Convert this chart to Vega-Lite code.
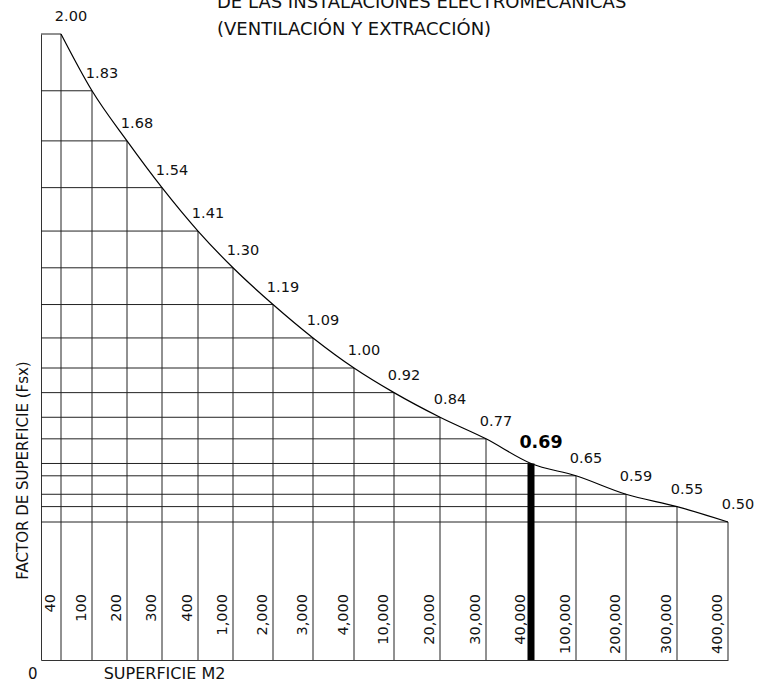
{
  "$schema": "https://vega.github.io/schema/vega-lite/v6.json",
  "width": 687,
  "height": 626,
  "autosize": {"type": "none"},
  "padding": {"left": 41, "top": 34, "right": 32, "bottom": 28},
  "background": "white",
  "title": {
    "text": ["DE LAS INSTALACIONES ELECTROMECANICAS", "(VENTILACIÓN Y EXTRACCIÓN)"],
    "anchor": "start",
    "frame": "group",
    "dx": 176,
    "dy": 30,
    "offset": 0,
    "font": "DejaVu Sans",
    "fontSize": 18,
    "fontWeight": "normal",
    "color": "#111",
    "lineHeight": 27
  },
  "config": {
    "view": {"stroke": null},
    "text": {"font": "DejaVu Sans", "color": "#111"}
  },
  "data": {
    "values": [
      {"col": 1, "area": "40", "fsx": 2.00},
      {"col": 2, "area": "100", "fsx": 1.83},
      {"col": 3, "area": "200", "fsx": 1.68},
      {"col": 4, "area": "300", "fsx": 1.54},
      {"col": 5, "area": "400", "fsx": 1.41},
      {"col": 6, "area": "1,000", "fsx": 1.30},
      {"col": 7, "area": "2,000", "fsx": 1.19},
      {"col": 8, "area": "3,000", "fsx": 1.09},
      {"col": 9, "area": "4,000", "fsx": 1.00},
      {"col": 10, "area": "10,000", "fsx": 0.92},
      {"col": 11, "area": "20,000", "fsx": 0.84},
      {"col": 12, "area": "30,000", "fsx": 0.77},
      {"col": 13, "area": "40,000", "fsx": 0.69},
      {"col": 14, "area": "100,000", "fsx": 0.65},
      {"col": 15, "area": "200,000", "fsx": 0.59},
      {"col": 16, "area": "300,000", "fsx": 0.55},
      {"col": 17, "area": "400,000", "fsx": 0.50}
    ]
  },
  "encoding": {
    "x": {
      "field": "col",
      "type": "quantitative",
      "scale": {
        "domain": [0, 1, 2, 3, 4, 5, 6, 7, 8, 9, 10, 11, 12, 13, 14, 15, 16, 17],
        "range": [0, 20, 51, 86, 121, 157, 192, 232, 272, 313, 353, 399, 445, 490, 535, 585, 636, 687],
        "nice": false,
        "zero": false
      },
      "axis": {
        "title": "SUPERFICIE M2",
        "grid": false,
        "ticks": false,
        "labels": false,
        "domain": true,
        "domainColor": "#333",
        "domainWidth": 1,
        "titleX": 123,
        "titleY": 13,
        "titleAlign": "center",
        "titleBaseline": "middle",
        "titleFont": "DejaVu Sans",
        "titleFontSize": 16,
        "titleFontWeight": "normal",
        "titleColor": "#111"
      }
    },
    "y": {
      "field": "fsx",
      "type": "quantitative",
      "scale": {
        "domain": [0, 0.5, 1, 2],
        "range": [626, 488, 334, 0],
        "nice": false,
        "zero": false
      },
      "axis": {
        "title": "FACTOR DE SUPERFICIE (Fsx)",
        "grid": false,
        "ticks": false,
        "tickSize": 0,
        "values": [0],
        "labelPadding": 4,
        "labelOffset": 13,
        "labelBaseline": "middle",
        "labelFont": "DejaVu Sans",
        "labelFontSize": 15,
        "labelColor": "#111",
        "domain": true,
        "domainColor": "#333",
        "domainWidth": 1,
        "titleX": -19,
        "titleY": 436,
        "titleAngle": 270,
        "titleAlign": "center",
        "titleBaseline": "middle",
        "titleFont": "DejaVu Sans",
        "titleFontSize": 15,
        "titleFontWeight": "normal",
        "titleColor": "#111"
      }
    }
  },
  "layer": [
    {
      "mark": {"type": "rule", "color": "#222", "strokeWidth": 1},
      "encoding": {"x2": {"datum": 0}}
    },
    {
      "mark": {"type": "rule", "color": "#222", "strokeWidth": 1},
      "encoding": {"y2": {"datum": 0}}
    },
    {
      "transform": [{"filter": "datum.area === '40,000'"}],
      "mark": {"type": "rule", "color": "#000", "strokeWidth": 7},
      "encoding": {"y2": {"datum": 0}}
    },
    {
      "mark": {"type": "line", "color": "#000", "strokeWidth": 1.2, "interpolate": "monotone"},
      "encoding": {}
    },
    {
      "transform": [{"filter": "datum.area !== '40,000'"}],
      "mark": {"type": "text", "dx": 10, "dy": -17, "fontSize": 14.5, "align": "center", "baseline": "middle"},
      "encoding": {"text": {"field": "fsx", "type": "quantitative", "format": ".2f"}}
    },
    {
      "transform": [{"filter": "datum.area === '40,000'"}],
      "mark": {"type": "text", "dx": 10, "dy": -20, "fontSize": 17.5, "fontWeight": "bold", "align": "center", "baseline": "middle", "color": "#000"},
      "encoding": {"text": {"field": "fsx", "type": "quantitative", "format": ".2f"}}
    },
    {
      "mark": {"type": "text", "angle": 270, "align": "right", "baseline": "middle", "dx": 66, "dy": -10, "fontSize": 14.5},
      "encoding": {
        "y": {"datum": 0},
        "text": {"field": "area", "type": "nominal"}
      }
    }
  ]
}
